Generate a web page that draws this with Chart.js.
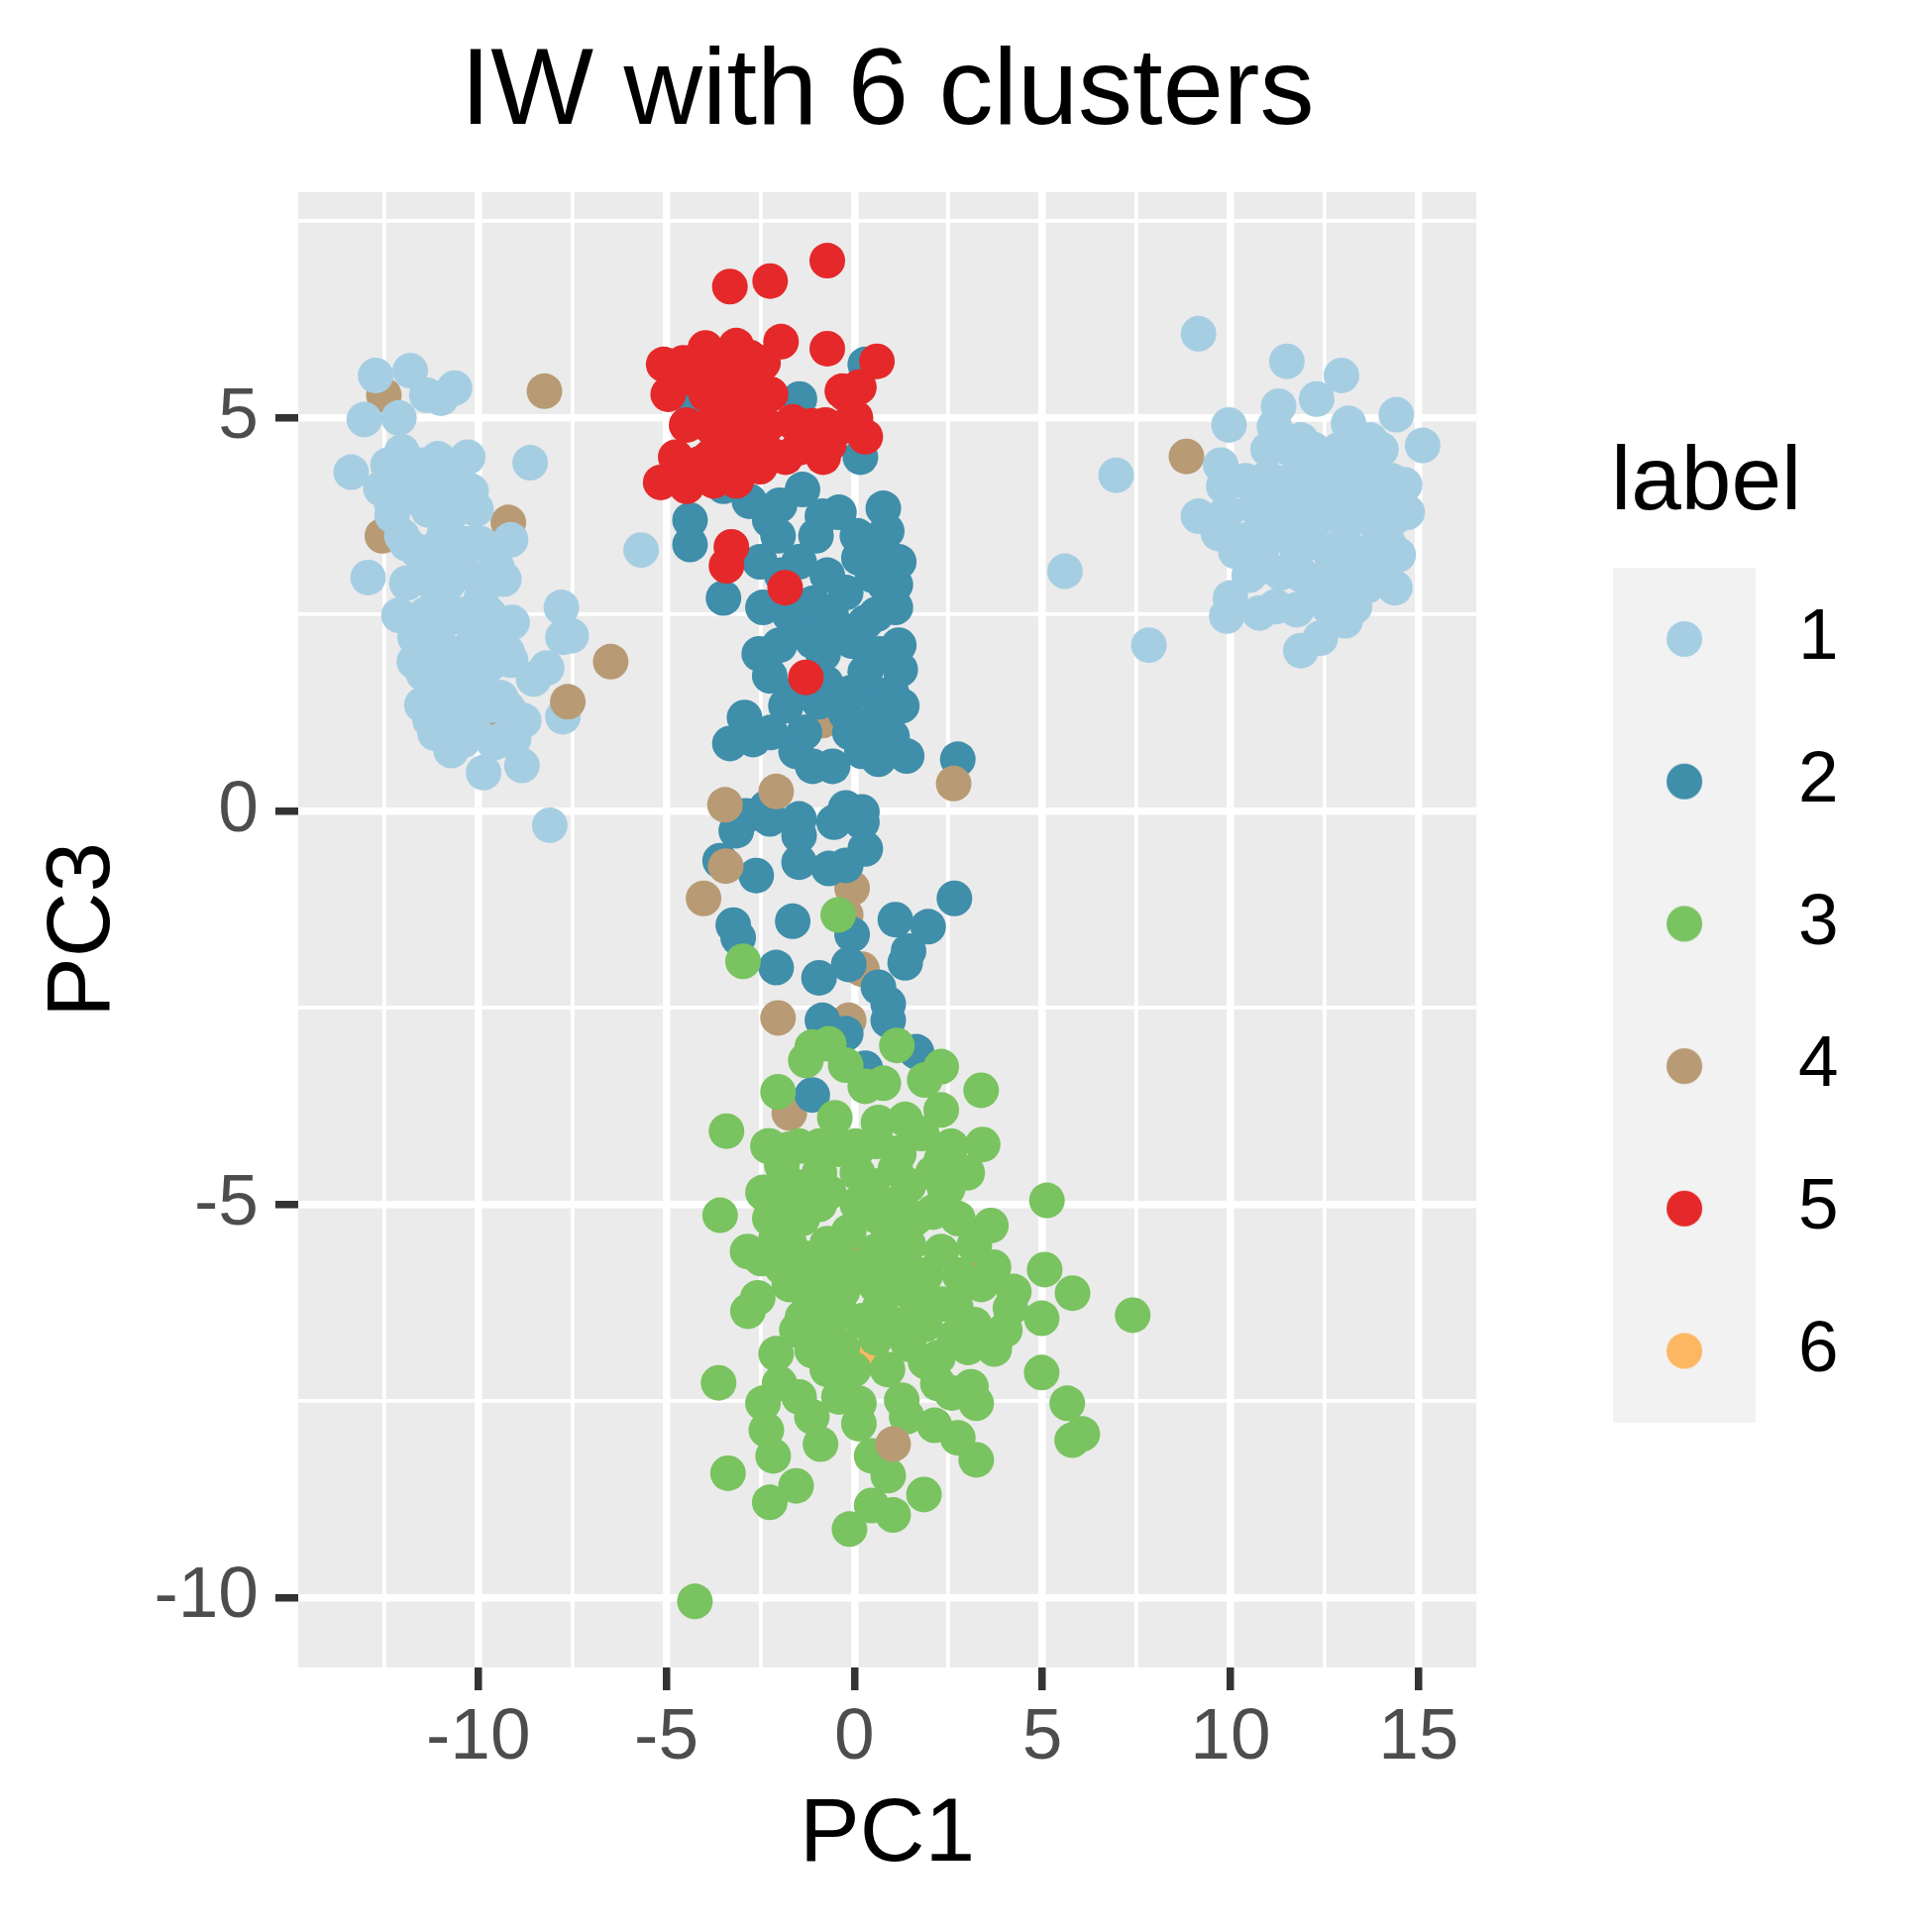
<!DOCTYPE html>
<html>
<head>
<meta charset="utf-8">
<script src="https://cdn.jsdelivr.net/npm/chart.js@4.4.1/dist/chart.umd.min.js"></script>
<style>
  html, body { margin: 0; padding: 0; background: #ffffff; }
  canvas { display: block; }
</style>
</head>
<body>
<canvas id="clusterChart" width="1950" height="1950"></canvas>
<script>
// cluster labels and colours
const clusterNames = ['1', '2', '3', '4', '5', '6'];
const clusterColors = ['#A6CEE3', '#3F8EAA', '#79C360', '#B89B74', '#E52829', '#FDB762'];

// axis ticks (minor every 2.5, labelled every 5)
const xTicks = [-12.5, -10, -7.5, -5, -2.5, 0, 2.5, 5, 7.5, 10, 12.5, 15];
const yTicks = [-10, -7.5, -5, -2.5, 0, 2.5, 5, 7.5];

// label 1 (two groups, left and right)
const cluster1 = [
  [-12.73,5.54],[-11.81,5.6],[-11.37,5.29],[-10.63,5.38],[-10.99,5.25],[-13.03,4.98],[-12.11,5.0],[-13.38,4.31],
  [-12.03,4.57],[-11.07,4.48],[-10.28,4.5],[-12.59,4.1],[-10.19,4.07],[-10.06,3.84],[-8.62,4.43],[-12.29,3.76],
  [-9.14,3.45],[-9.93,3.4],[-5.67,3.32],[-12.03,3.5],[-12.93,2.97],[-11.5,2.97],[-9.32,2.95],[-7.79,2.59],
  [-7.75,2.21],[-7.53,2.23],[-12.11,2.49],[-11.68,2.21],[-10.8,2.45],[-9.58,2.3],[-8.18,1.82],[-11.46,1.75],
  [-10.1,1.82],[-9.14,1.92],[-11.28,1.15],[-11.15,0.99],[-10.1,1.01],[-8.79,1.15],[-7.75,1.2],[-9.86,0.49],
  [-8.84,0.58],[-8.1,-0.18],[-10.45,1.49],[-9.4,1.44],[-11.07,2.78],[-10.45,3.07],[-11.33,3.83],[-10.89,3.55],
  [-11.76,4.26],[-9.93,2.69],[-10.28,2.06],[-9.23,2.02],[-8.53,1.68],[-10.72,0.77],[-9.58,0.87],[-11.5,1.35],
  [-9.58,1.35],[-9.06,0.92],[-11.8,4.0],[-11.2,3.2],[-10.7,3.8],[-10.5,2.5],[-11.0,2.1],[-10.0,2.95],
  [-10.6,1.15],[-9.9,1.7],[-11.3,4.1],[-10.7,4.2],[-11.6,3.3],[-10.9,1.6],[-9.7,2.5],[-9.5,3.1],
  [-10.2,3.4],[-11.4,2.5],
  [-12.4,4.4],[-11.5,4.4],[-10.6,4.4],[-12.3,3.9],[-11.0,3.9],[-10.4,3.9],[-11.9,3.4],[-11.0,3.4],
  [-10.4,3.4],[-11.9,2.9],[-10.8,2.9],[-9.9,2.9],[-11.3,2.4],[-10.2,2.4],[-9.1,2.4],[-11.7,1.9],
  [-10.6,1.9],[-9.6,1.9],[-10.9,1.3],[-10.3,1.3],[-9.2,1.3],[-10.4,0.9],[-9.4,0.9],
  [9.15,6.07],[11.5,5.72],[12.95,5.54],[12.29,5.24],[11.28,5.15],[14.41,5.04],[13.14,4.93],[9.96,4.91],
  [15.11,4.65],[11.17,4.89],[6.96,4.27],[9.74,4.4],[9.82,4.13],[9.15,3.75],[9.68,3.53],[10.14,3.3],
  [5.6,3.05],[7.83,2.11],[10.0,2.71],[9.9,2.48],[10.77,2.52],[11.76,2.56],[11.87,2.04],[12.39,2.2],
  [13.05,2.42],[14.37,2.84],[14.46,3.26],[14.63,4.15],[14.41,3.75],[13.71,4.72],[11.87,4.72],[10.9,4.21],
  [11.34,3.03],[12.83,2.69],[13.62,2.86],[12.22,2.82],[11.78,4.29],[12.66,4.38],[13.54,4.29],[13.97,4.04],
  [13.1,4.04],[12.22,4.04],[11.34,4.04],[10.64,3.87],[10.46,3.45],[11.34,3.66],[12.22,3.66],[13.1,3.66],
  [13.97,3.53],[11.78,3.32],[12.66,3.28],[13.54,3.28],[13.97,3.11],[10.9,3.11],[13.1,3.03],
  [11.0,4.6],[11.6,4.6],[12.2,4.6],[12.9,4.6],[13.5,4.6],[14.0,4.6],[10.4,4.2],[11.1,4.2],
  [12.5,4.2],[13.2,4.2],[14.3,4.2],[9.9,3.8],[10.9,3.8],[11.8,3.8],[12.7,3.8],[13.6,3.8],
  [14.7,3.8],[10.9,3.4],[12.0,3.4],[13.0,3.4],[14.2,3.4],[10.5,3.0],[11.9,3.0],[12.6,3.0],
  [14.0,3.0],[11.2,2.6],[12.6,2.6],[13.3,2.6]
];

// label 2
const cluster2 = [
  [0.29,5.68],[-1.46,5.24],[0.16,4.5],[-3.48,4.13],[-4.37,3.7],[-4.37,3.39],[-3.48,2.71],[-2.79,3.94],
  [-1.38,4.09],[-0.41,3.8],[0.77,3.85],[0.86,3.56],[-1.99,3.89],[-2.51,3.17],[-2.43,2.59],[-1.47,3.17],
  [0.12,3.22],[0.81,2.88],[-0.23,2.78],[-1.11,2.64],[0.29,2.4],[-1.99,2.11],[-1.11,2.16],[-0.06,2.16],
  [-2.25,1.72],[-0.76,1.63],[0.29,1.77],[1.22,1.8],[-2.92,1.19],[-3.31,0.86],[-2.69,0.91],[-1.55,0.76],
  [-1.11,0.57],[-0.58,0.57],[0.2,0.76],[0.64,0.66],[-0.23,1.24],[0.55,1.15],[1.26,1.34],[1.0,0.95],
  [2.75,0.66],[-0.94,1.39],[-1.82,1.34],[1.09,2.59],[1.09,2.88],[1.18,3.17],[-0.85,3.75],[-2.25,3.7],
  [-0.32,2.3],[-1.38,2.3],[-2.34,0.04],[-1.47,-0.1],[-0.23,0.04],[0.2,-0.01],[-2.88,-0.06],[0.64,3.27],
  [1.18,2.11],[0.55,1.48],[-4.27,5.1],[-3.75,4.86],
  [-2.03,3.5],[-1.02,3.5],[0.08,3.5],[-1.93,3.0],[-0.72,3.0],[0.48,3.0],[-1.73,2.5],[-0.62,2.5],
  [0.58,2.5],[-2.53,2.0],[-0.83,2.0],[0.68,2.0],[-1.53,1.5],[-0.12,1.5],[0.99,1.5],[-2.23,1.0],
  [-1.33,1.0],[-0.12,1.0],[1.39,0.7],
  [-3.14,-0.25],[-3.57,-0.63],[-2.61,-0.82],[-2.25,-0.1],[-1.47,-0.31],[-1.47,-0.65],[-0.54,-0.14],[-0.15,-0.02],
  [0.2,-0.14],[0.29,-0.48],[-0.23,-0.69],[-0.68,-0.73],[2.66,-1.11],[1.09,-1.38],[1.96,-1.47],[1.44,-1.78],
  [1.35,-1.93],[-3.22,-1.45],[-3.09,-1.61],[-1.64,-1.4],[-2.08,-1.99],[-0.94,-2.12],[-0.06,-1.57],[-0.15,-1.95],
  [0.64,-2.24],[0.9,-2.45],[0.9,-2.66],[-0.85,-2.66],[-0.23,-2.83],[0.29,-3.27],[1.65,-3.06],[-1.12,-3.61]
];

// label 3
const cluster3 = [
  [-0.43,-1.32],[-2.96,-1.91],[-1.12,-3.0],[-0.68,-2.96],[-1.29,-3.17],[-0.23,-3.23],[1.13,-2.98],[2.31,-3.25],
  [0.77,-3.46],[0.29,-3.5],[-2.03,-3.57],[3.37,-3.55],[-3.4,-4.07],[1.87,-3.42],[2.31,-3.8],[0.64,-3.96],
  [1.35,-3.92],[3.41,-4.24],[2.57,-4.26],[1.18,-4.36],[-2.25,-4.26],[-1.73,-4.3],[-0.93,-4.26],[-0.42,-4.3],
  [0.08,-4.3],[0.58,-4.2],[5.12,-4.95],[-3.57,-5.14],[3.63,-5.27],[2.4,-4.8],[-2.34,-4.89],
  [-2.3,-4.26],[-1.47,-4.26],[-0.68,-4.3],[0.03,-4.26],[1.18,-4.35],[-2.43,-4.85],[-1.64,-4.76],[-0.68,-4.85],
  [0.46,-4.76],[1.44,-4.76],[2.48,-4.8],[-2.25,-5.18],[-1.38,-5.18],[0.55,-5.14],[1.61,-5.18],[2.75,-5.18],
  [-2.08,-5.43],[-2.48,-5.69],[-1.2,-5.69],[0.55,-5.6],[1.44,-5.52],[2.31,-5.6],[3.19,-5.52],[5.06,-5.83],
  [5.8,-6.13],[7.4,-6.41],[4.98,-6.45],[4.24,-6.11],[4.15,-6.32],[3.37,-6.02],[3.72,-6.84],[3.19,-6.53],
  [2.31,-6.27],[1.44,-6.11],[0.55,-6.02],[-0.32,-6.11],[-1.2,-6.19],[-1.73,-6.02],[-2.57,-6.19],[-2.83,-6.36],
  [-1.38,-6.44],[-0.68,-6.53],[0.2,-6.48],[1.09,-6.53],[1.87,-6.53],[2.66,-6.69],[-1.12,-6.86],[-0.32,-6.82],
  [1.44,-6.78],[2.22,-6.95],[3.02,-6.82],[-2.08,-6.9],[4.98,-7.14],[5.66,-7.53],[5.79,-8.0],[6.06,-7.92],
  [-3.61,-7.27],[-1.99,-7.28],[-1.47,-7.45],[-2.43,-7.53],[-2.34,-7.87],[-2.16,-8.2],[-1.55,-8.58],[-2.25,-8.79],
  [-3.36,-8.42],[-0.9,-8.05],[-0.41,-7.45],[0.12,-7.53],[1.26,-7.49],[0.12,-7.79],[0.46,-8.2],[0.9,-8.45],
  [0.46,-8.83],[1.03,-8.95],[-0.13,-9.13],[1.85,-8.69],[2.13,-7.81],[2.75,-7.97],[3.24,-8.25],[3.24,-7.53],
  [3.1,-7.32],[2.22,-7.28],[-4.24,-10.05],[-0.5,-5.69],[-0.15,-5.35],[2.31,-4.44],
  [-1.93,-4.5],[-0.93,-4.6],[0.08,-4.6],[1.09,-4.55],[2.09,-4.6],[-1.93,-5.0],[-0.93,-5.0],[0.08,-5.0],
  [1.09,-5.0],[2.09,-5.1],[-1.73,-5.5],[-0.72,-5.5],[0.08,-5.8],[1.09,-5.8],[1.89,-5.9],[2.8,-5.9],
  [-0.93,-5.9],[-1.93,-5.8],[0.88,-5.3],[-0.42,-6.3],[0.68,-6.3],[1.69,-6.3],[2.69,-6.3],[-1.53,-6.6],
  [0.58,-6.7],[1.89,-7.0],[-0.72,-7.1],[0.88,-7.1],
  [-0.52,-3.9],[1.79,-4.1],[3.0,-4.6],[3.7,-5.8],[-2.84,-5.6],[2.59,-7.4],[-0.02,-7.1],[1.39,-7.7],
  [-1.13,-7.7],[4.0,-6.6]
];

// label 4 (drawn below the others) and the few label 4 points that sit on top
const cluster4 = [
  [-12.51,5.29],[-12.55,3.5],[-9.2,3.67],[-9.64,1.2],[-6.48,1.9],[-8.24,5.34],[8.83,4.51],[-0.85,1.15],
  [-0.06,-0.98],[-0.23,-1.32],[0.2,-2.01],[-0.15,-2.66],[-1.73,-3.84],[-0.23,-5.6],[3.37,-5.77],[-4.01,-1.11]
];
const cluster4Top = [
  [-7.62,1.39],[-3.44,0.08],[-3.42,-0.7],[-2.03,-2.63],[1.03,-8.05],[2.64,0.35],[-2.08,0.25]
];

// label 5
const cluster5 = [
  [-0.72,7.0],[-3.31,6.67],[-2.24,6.74],[-1.95,5.97],[-0.72,5.88],[0.6,5.72],[-5.07,5.68],[-3.96,5.89],
  [-3.14,5.92],[-2.79,5.77],[-4.37,5.51],[-3.48,5.51],[-2.79,5.44],[-0.32,5.34],[0.12,5.39],[-4.46,4.91],
  [-3.66,5.1],[-2.69,5.15],[-1.64,4.95],[-0.77,4.91],[0.03,5.0],[0.29,4.76],[-0.68,4.66],[-2.87,4.71],
  [-2.17,4.52],[-1.47,4.62],[-4.1,4.42],[-5.15,4.18],[-4.46,4.13],[-3.48,4.52],[-2.51,4.38],[-3.75,5.58],
  [-3.14,5.63],[-3.27,3.36],[-3.4,3.12],[-1.84,2.84],[-1.29,1.7],
  [-4.55,5.7],[-3.54,5.7],[-2.43,5.7],[-4.95,5.3],[-3.94,5.3],[-3.14,5.3],[-2.23,5.3],[-0.22,5.3],
  [-3.84,4.9],[-3.24,4.9],[-2.33,4.9],[-1.13,4.9],[-0.22,4.9],[-4.75,4.5],[-3.84,4.5],[-2.84,4.5],
  [-1.83,4.5],[-0.83,4.5],[-3.74,4.2],[-3.14,4.2]
];

// label 6
const cluster6 = [[0.41,-6.95]];

const toXY = pts => pts.map(p => ({ x: p[0], y: p[1] }));

function keyImage(color) {
  // grey key cell with the coloured dot; drawn by the legend as its point style
  const c = document.createElement('canvas');
  c.width = 219;
  c.height = 144;
  const g = c.getContext('2d');
  g.fillStyle = '#F2F2F2';
  g.fillRect(0, 0, 144, 144);
  g.fillStyle = color;
  g.beginPath();
  g.arc(72, 72, 18, 0, Math.PI * 2);
  g.fill();
  return c;
}
const keyImages = clusterColors.map(keyImage);

function pointSet(label, pts, color, order) {
  return {
    label: label,
    data: toXY(pts),
    backgroundColor: color,
    borderWidth: 0,
    pointRadius: 18,
    pointHoverRadius: 18,
    order: order
  };
}

const datasets = [
  pointSet('1', cluster1, clusterColors[0], 4),
  pointSet('2', cluster2, clusterColors[1], 3),
  pointSet('3', cluster3, clusterColors[2], 2),
  pointSet('4', cluster4, clusterColors[3], 5),
  pointSet('5', cluster5, clusterColors[4], 1),
  pointSet('6', cluster6, clusterColors[5], 6),
  pointSet('4', cluster4Top, clusterColors[3], 0)
];

const panelBackground = {
  id: 'panelBackground',
  beforeDraw(chart) {
    const { ctx, chartArea: a } = chart;
    ctx.save();
    ctx.fillStyle = '#EBEBEB';
    ctx.fillRect(a.left, a.top, a.right - a.left, a.bottom - a.top);
    ctx.restore();
  }
};

const isMajor = v => Math.abs(v % 5) < 1e-9;
const fontFamily = '"Liberation Sans", Arial, sans-serif';

const axisGrid = {
  color: '#FFFFFF',
  lineWidth: ctx => (ctx.tick && isMajor(ctx.tick.value)) ? 7.5 : 3.75,
  tickLength: 23,
  tickWidth: 7.5,
  tickColor: ctx => (ctx.tick && isMajor(ctx.tick.value)) ? '#333333' : 'rgba(0,0,0,0)'
};

const ctx = document.getElementById('clusterChart').getContext('2d');
const chart = new Chart(ctx, {
  type: 'scatter',
  data: { datasets: datasets },
  options: {
    responsive: false,
    devicePixelRatio: 1,
    animation: false,
    events: [],
    layout: { padding: { left: 0, top: 0, right: 84.4, bottom: 0 } },
    scales: {
      x: {
        type: 'linear',
        position: 'bottom',
        min: -14.79,
        max: 16.54,
        afterBuildTicks: s => { s.ticks = xTicks.map(v => ({ value: v })); },
        afterFit: s => { s.height = 267; },
        grid: axisGrid,
        border: { display: false },
        ticks: {
          autoSkip: false,
          maxRotation: 0,
          minRotation: 0,
          padding: 5,
          color: '#4D4D4D',
          font: { family: fontFamily, size: 73, lineHeight: 1.2 },
          callback: v => isMajor(v) ? String(v) : ''
        },
        title: {
          display: true,
          text: 'PC1',
          color: '#000000',
          font: { family: fontFamily, size: 91, lineHeight: 1.2 },
          padding: { top: 0, bottom: 42 }
        }
      },
      y: {
        type: 'linear',
        position: 'left',
        min: -10.89,
        max: 7.87,
        afterBuildTicks: s => { s.ticks = yTicks.map(v => ({ value: v })); },
        afterFit: s => { s.width = 300.9; },
        grid: axisGrid,
        border: { display: false },
        ticks: {
          autoSkip: false,
          padding: 17,
          color: '#4D4D4D',
          font: { family: fontFamily, size: 73, lineHeight: 1.2 },
          callback: v => isMajor(v) ? String(v) : ''
        },
        title: {
          display: true,
          text: 'PC3',
          color: '#000000',
          font: { family: fontFamily, size: 91, lineHeight: 1.2 },
          padding: { top: 30, bottom: 0 }
        }
      },
      gap: {
        type: 'linear',
        position: 'right',
        display: true,
        afterFit: s => { s.width = 135.8; },
        grid: { display: false, drawTicks: false },
        border: { display: false },
        ticks: { display: false }
      }
    },
    plugins: {
      tooltip: { enabled: false },
      title: {
        display: true,
        text: 'IW with 6 clusters',
        fullSize: false,
        color: '#000000',
        font: { family: fontFamily, size: 110, weight: 'normal', lineHeight: 1.2 },
        padding: { top: 28.9, bottom: 33.1 }
      },
      legend: {
        display: true,
        position: 'right',
        align: 'start',
        title: {
          display: true,
          text: 'label',
          position: 'start',
          color: '#000000',
          font: { family: fontFamily, size: 91, lineHeight: 1 },
          padding: { top: 443, bottom: 3.8 }
        },
        labels: {
          usePointStyle: true,
          pointStyleWidth: 81.8,
          padding: 70.7,
          color: '#000000',
          font: { family: fontFamily, size: 73 },
          generateLabels: () => clusterNames.map((name, i) => ({
            text: name,
            fillStyle: clusterColors[i],
            strokeStyle: clusterColors[i],
            lineWidth: 0,
            pointStyle: keyImages[i],
            hidden: false,
            datasetIndex: i,
            fontColor: '#000000'
          }))
        }
      }
    }
  },
  plugins: [panelBackground]
});
</script>
</body>
</html>
